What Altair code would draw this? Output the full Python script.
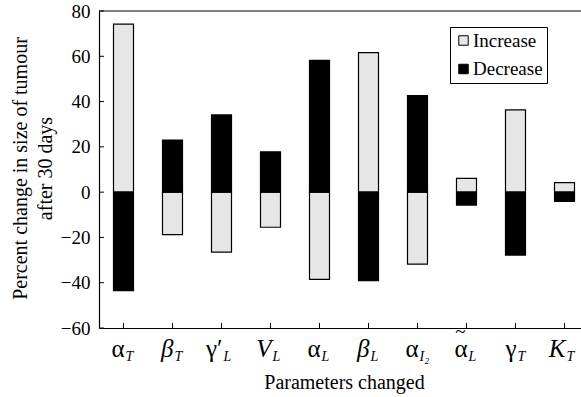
import altair as alt
import pandas as pd

# ---- data ----
params = ["aT", "bT", "gL", "VL", "aL", "bL", "aI2", "atL", "gT", "KT"]
main_labels = ["α", "β", "γ′", "V", "α", "β", "α", "α", "γ", "K"]
accents = ["", "", "", "", "", "", "", "~", "", ""]
sub_labels = ["T", "T", "L", "L", "L", "L", "I₂", "L", "T", "T"]
increase = [74.2, -18.8, -26.5, -15.5, -38.5, 61.6, -31.8, 6.1, 36.3, 4.2]
decrease = [-43.5, 23.0, 34.1, 17.8, 58.2, -39.1, 42.6, -5.7, -27.8, -4.1]
series = ["Increase", "Decrease"]
y_ticks = [-60, -40, -20, 0, 20, 40, 60, 80]
italic_mains = ["β", "V", "K"]

FONT = "'Liberation Serif', 'Times New Roman', Times, serif"
W, H = 482, 317

rows = []
for p, inc, dec in zip(params, increase, decrease):
    rows.append({"param": p, "series": "Increase", "value": inc})
    rows.append({"param": p, "series": "Decrease", "value": dec})
bars_df = pd.DataFrame(rows)

lab_df = pd.DataFrame({"param": params, "main": main_labels, "sub": sub_labels,
                       "acc": accents})
lab_df["it"] = lab_df["main"].isin(italic_mains)
tick_df = pd.DataFrame({"value": y_ticks})

xscale = alt.Scale(domain=params, range=[0, 490], paddingInner=0, paddingOuter=0)
yscale = alt.Scale(domain=[-60, 80], nice=False, zero=False)

xaxis = alt.Axis(labels=False, ticks=False, tickSize=0, domain=True,
                 domainColor="black", title="Parameters changed",
                 titleX=245, titleY=60, titleBaseline="alphabetic",
                 titleAlign="center", titleAnchor="start")
yaxis = alt.Axis(values=y_ticks, ticks=False, tickSize=0, labelPadding=9,
                 grid=False, domainColor="black",
                 title=["Percent change in size of tumour", "after 30 days"],
                 titleAngle=270, titleX=-73, titleY=157, titleAlign="center",
                 titleBaseline="alphabetic", titleLineHeight=25,
                 titleAnchor="start")

X = alt.X("param:N", sort=params, scale=xscale, axis=xaxis)

bars = alt.Chart(bars_df).mark_bar(size=20, stroke="black", strokeWidth=1.2).encode(
    x=X,
    y=alt.Y("value:Q", scale=yscale, stack=None, axis=yaxis),
    y2=alt.datum(0),
    color=alt.Color("series:N", sort=series,
                    scale=alt.Scale(domain=series, range=["#e6e6e6", "#000000"]),
                    legend=alt.Legend(orient="none", legendX=351, legendY=16, title=None,
                                      labelFont=FONT, labelFontSize=19)),
)

ytick_rules = alt.Chart(tick_df).mark_rule(color="black", strokeWidth=1).encode(
    x=alt.value(0), x2=alt.value(5),
    y=alt.Y("value:Q", scale=yscale, axis=yaxis),
)

xtick_rules = alt.Chart(lab_df).mark_rule(color="black", strokeWidth=1).encode(
    x=X, y=alt.value(H), y2=alt.value(H - 5),
)

top_border = alt.Chart(tick_df.head(1)).mark_rule(color="black", strokeWidth=1.2).encode(
    x=alt.value(0), x2=alt.value(490), y=alt.value(0),
)

main_up = alt.Chart(lab_df).transform_filter("!datum.it").mark_text(
    align="right", baseline="alphabetic", dx=1, font=FONT, fontSize=25, color="black"
).encode(x=X, y=alt.value(346), text="main:N")

main_it = alt.Chart(lab_df).transform_filter("datum.it").mark_text(
    align="right", baseline="alphabetic", dx=1, font=FONT, fontSize=25,
    fontStyle="italic", color="black"
).encode(x=X, y=alt.value(346), text="main:N")

accent = alt.Chart(lab_df).transform_filter("datum.acc != ''").mark_text(
    align="center", baseline="alphabetic", dx=-6, font=FONT, fontSize=19, color="black"
).encode(x=X, y=alt.value(327), text="acc:N")

subs = alt.Chart(lab_df).mark_text(
    align="left", baseline="alphabetic", dx=2, font=FONT, fontSize=14,
    fontStyle="italic", color="black"
).encode(x=X, y=alt.value(350), text="sub:N")

chart = alt.layer(
    bars, ytick_rules, xtick_rules, top_border, main_up, main_it, accent, subs
).properties(
    width=W, height=H,
    autosize=alt.AutoSizeParams(type="none"),
    padding={"left": 99, "top": 11, "right": 0, "bottom": 69},
).configure_view(stroke=None).configure_axis(
    labelFont=FONT, titleFont=FONT, labelFontSize=19, titleFontSize=20,
    labelColor="black", titleColor="black", titleFontWeight="normal",
    domainColor="black", domainWidth=1.2,
).configure_legend(
    strokeColor="black", fillColor="white", padding=4, symbolType="square",
    symbolSize=90, symbolStrokeColor="black", symbolStrokeWidth=1,
    labelFont=FONT, labelFontSize=19, labelColor="black", rowPadding=8.5,
    labelOffset=0, cornerRadius=0,
)

chart.save("out.html", embed_options={"renderer": "svg", "actions": False})
